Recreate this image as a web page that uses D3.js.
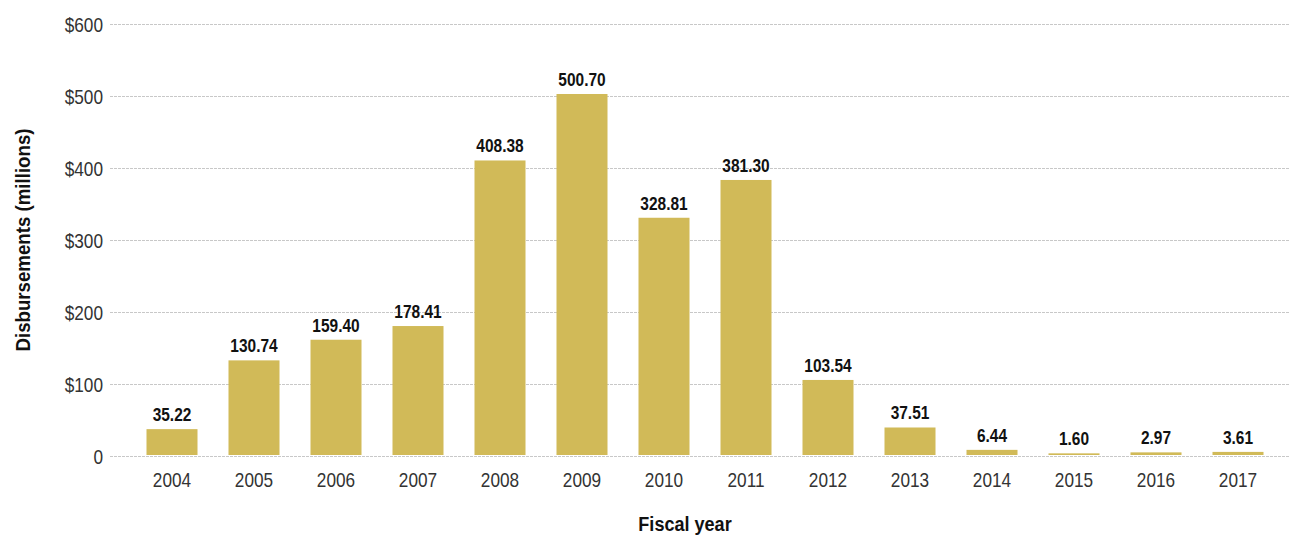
<!DOCTYPE html>
<html><head><meta charset="utf-8">
<script src="https://cdn.jsdelivr.net/npm/d3@7"></script>
<style>
body{margin:0;background:#fff;}
text{font-family:"Liberation Sans",Arial,sans-serif;}
</style></head>
<body><svg id="c" width="1290" height="536"></svg>
<script>
const years = ["2004","2005","2006","2007","2008","2009","2010","2011","2012","2013","2014","2015","2016","2017"];
const values = [35.22,130.74,159.40,178.41,408.38,500.70,328.81,381.30,103.54,37.51,6.44,1.60,2.97,3.61];
const yTicks = [0,100,200,300,400,500,600];
const yTickLabels = ["0","$100","$200","$300","$400","$500","$600"];

const svg = d3.select("#c");
const x = d3.scaleBand().domain(years).range([131,1279]).paddingInner(0.378).paddingOuter(0.189);
const y = d3.scaleLinear().domain([0,600]).range([456,24]);
const NARROW = 0.82, NARROW_B = 0.86;

// gridlines
svg.append("g").selectAll("line").data(yTicks).join("line")
  .attr("x1",110).attr("x2",1290)
  .attr("y1",d=>y(d)+0.5).attr("y2",d=>y(d)+0.5)
  .attr("stroke","#c8c8c8").attr("stroke-width",1).attr("stroke-dasharray","3,1");

// y tick labels
svg.append("g").selectAll("text").data(yTicks).join("text")
  .attr("transform",d=>`translate(103,${y(d)+7.5}) scale(${NARROW},1)`)
  .attr("text-anchor","end").attr("font-size",21).attr("fill","#333")
  .text((d,i)=>yTickLabels[i]);

// bars
svg.append("g").selectAll("rect").data(values).join("rect")
  .attr("x",(d,i)=>x(years[i])).attr("width",x.bandwidth())
  .attr("y",d=>y(d)-1.5).attr("height",d=>Math.max(0,y(0)-1-(y(d)-1.5)))
  .attr("fill","#d1ba58");

// value labels
svg.append("g").selectAll("text").data(values).join("text")
  .attr("transform",(d,i)=>`translate(${x(years[i])+x.bandwidth()/2},${y(d)-9.5}) scale(${NARROW_B},1)`)
  .attr("text-anchor","middle").attr("font-size",18).attr("font-weight","bold").attr("fill","#111")
  .text(d=>d.toFixed(2));

// x tick labels
svg.append("g").selectAll("text").data(years).join("text")
  .attr("transform",d=>`translate(${x(d)+x.bandwidth()/2},487) scale(${NARROW},1)`)
  .attr("text-anchor","middle").attr("font-size",21).attr("fill","#333")
  .text(d=>d);

// axis titles
svg.append("text").attr("transform",`translate(685,531) scale(${NARROW_B},1)`).attr("text-anchor","middle")
  .attr("font-size",21).attr("font-weight","bold").attr("fill","#111").text("Fiscal year");
svg.append("text").attr("transform",`translate(30,240) rotate(-90) scale(0.89,1)`).attr("text-anchor","middle")
  .attr("font-size",21).attr("font-weight","bold").attr("fill","#111").text("Disbursements (millions)");
</script></body></html>
